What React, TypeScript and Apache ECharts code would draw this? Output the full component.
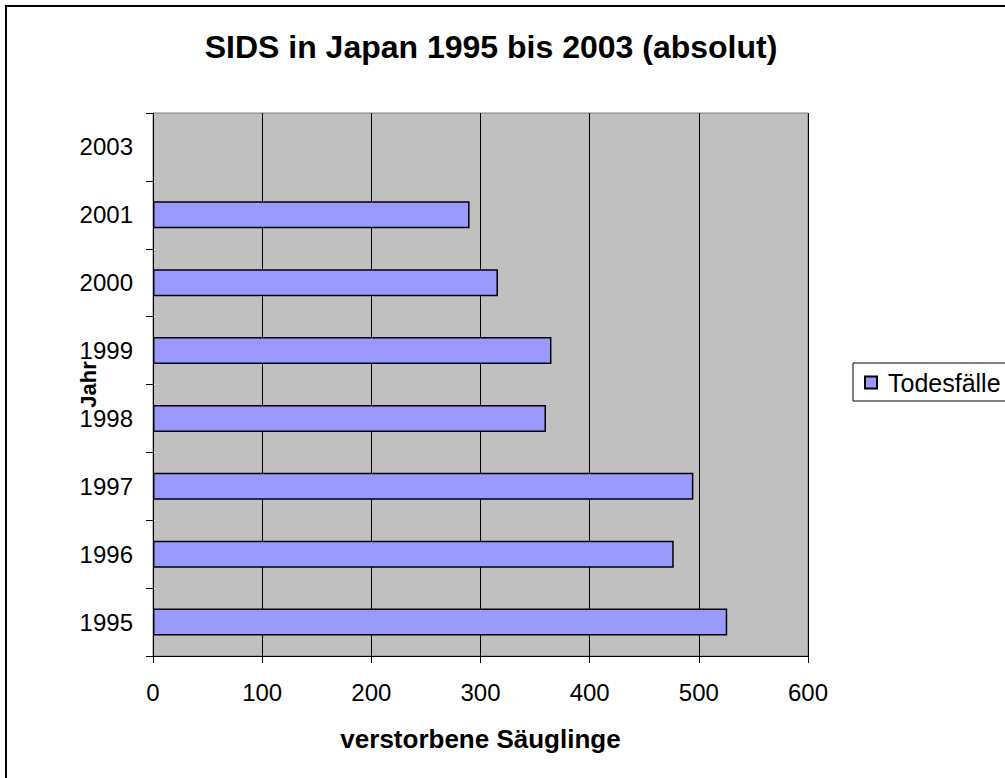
import React, { useEffect, useRef } from "react";
import * as echarts from "echarts";

const years = ["1995", "1996", "1997", "1998", "1999", "2000", "2001", "2003"];
const deaths: (number | null)[] = [526, 477, 495, 360, 365, 316, 290, null];
const xTicks = { min: 0, max: 600, interval: 100 };
const titleText = "SIDS in Japan 1995 bis 2003 (absolut)";
const seriesName = "Todesfälle";
const xName = "verstorbene Säuglinge";
const yName = "Jahr";

const FONT = '"Liberation Sans", Arial, sans-serif';

export default function App() {
  const ref = useRef<HTMLDivElement>(null);
  useEffect(() => {
    if (!ref.current) return;
    const chart = echarts.init(ref.current, undefined, { renderer: "svg" });
    chart.setOption({
      animation: false,
      backgroundColor: "#ffffff",
      textStyle: { fontFamily: FONT },
      title: {
        text: titleText,
        left: 491,
        top: 31,
        textAlign: "center",
        padding: 0,
        textStyle: { fontFamily: FONT, fontSize: 32, fontWeight: "bold", color: "#000" },
      },
      legend: {
        data: [seriesName],
        left: 853,
        top: 363,
        orient: "vertical",
        padding: [7, 30, 6, 11],
        itemWidth: 12,
        itemHeight: 12,
        itemGap: 5,
        icon: "rect",
        borderColor: "#000",
        borderWidth: 1,
        backgroundColor: "#fff",
        textStyle: { fontFamily: FONT, fontSize: 25, color: "#000", padding: [0, 0, 0, 6] },
      },
      grid: {
        left: 153,
        top: 113,
        width: 655,
        height: 543,
        show: true,
        backgroundColor: "#c0c0c0",
        borderColor: "#808080",
        borderWidth: 1,
        containLabel: false,
      },
      xAxis: {
        type: "value",
        min: xTicks.min,
        max: xTicks.max,
        interval: xTicks.interval,
        name: xName,
        nameLocation: "middle",
        nameGap: 70,
        nameMoveOverlap: false,
        nameTextStyle: { fontFamily: FONT, fontSize: 26, fontWeight: "bold", color: "#000" },
        axisLine: { show: true, lineStyle: { color: "#000", width: 1 } },
        axisTick: { show: true, inside: false, length: 7, lineStyle: { color: "#000" } },
        axisLabel: { fontFamily: FONT, fontSize: 24, color: "#000", margin: 24 },
        splitLine: { show: true, lineStyle: { color: "#000", width: 1 } },
      },
      yAxis: {
        type: "category",
        data: years,
        name: yName,
        nameLocation: "middle",
        nameRotate: 90,
        nameGap: 54,
        nameMoveOverlap: false,
        nameTextStyle: { fontFamily: FONT, fontSize: 22, fontWeight: "bold", color: "#000" },
        axisLine: { show: true, lineStyle: { color: "#000", width: 1 } },
        axisTick: { show: true, inside: false, length: 7, lineStyle: { color: "#000" } },
        axisLabel: { fontFamily: FONT, fontSize: 24, color: "#000", margin: 20 },
        splitLine: { show: false },
      },
      series: [
        {
          name: seriesName,
          type: "bar",
          data: deaths,
          barWidth: 27,
          itemStyle: { color: "#9999ff", borderColor: "#000", borderWidth: 1.5 },
        },
      ],
      graphic: [
        {
          type: "rect",
          shape: { x: 6, y: 6, width: 1200, height: 1000 },
          style: { fill: "none", stroke: "#000", lineWidth: 2 },
          silent: true,
          z: 100,
        },
      ],
    });
    return () => chart.dispose();
  }, []);
  return (
    <div
      ref={ref}
      style={{ position: "fixed", left: 0, top: 0, width: 1005, height: 778 }}
    />
  );
}
